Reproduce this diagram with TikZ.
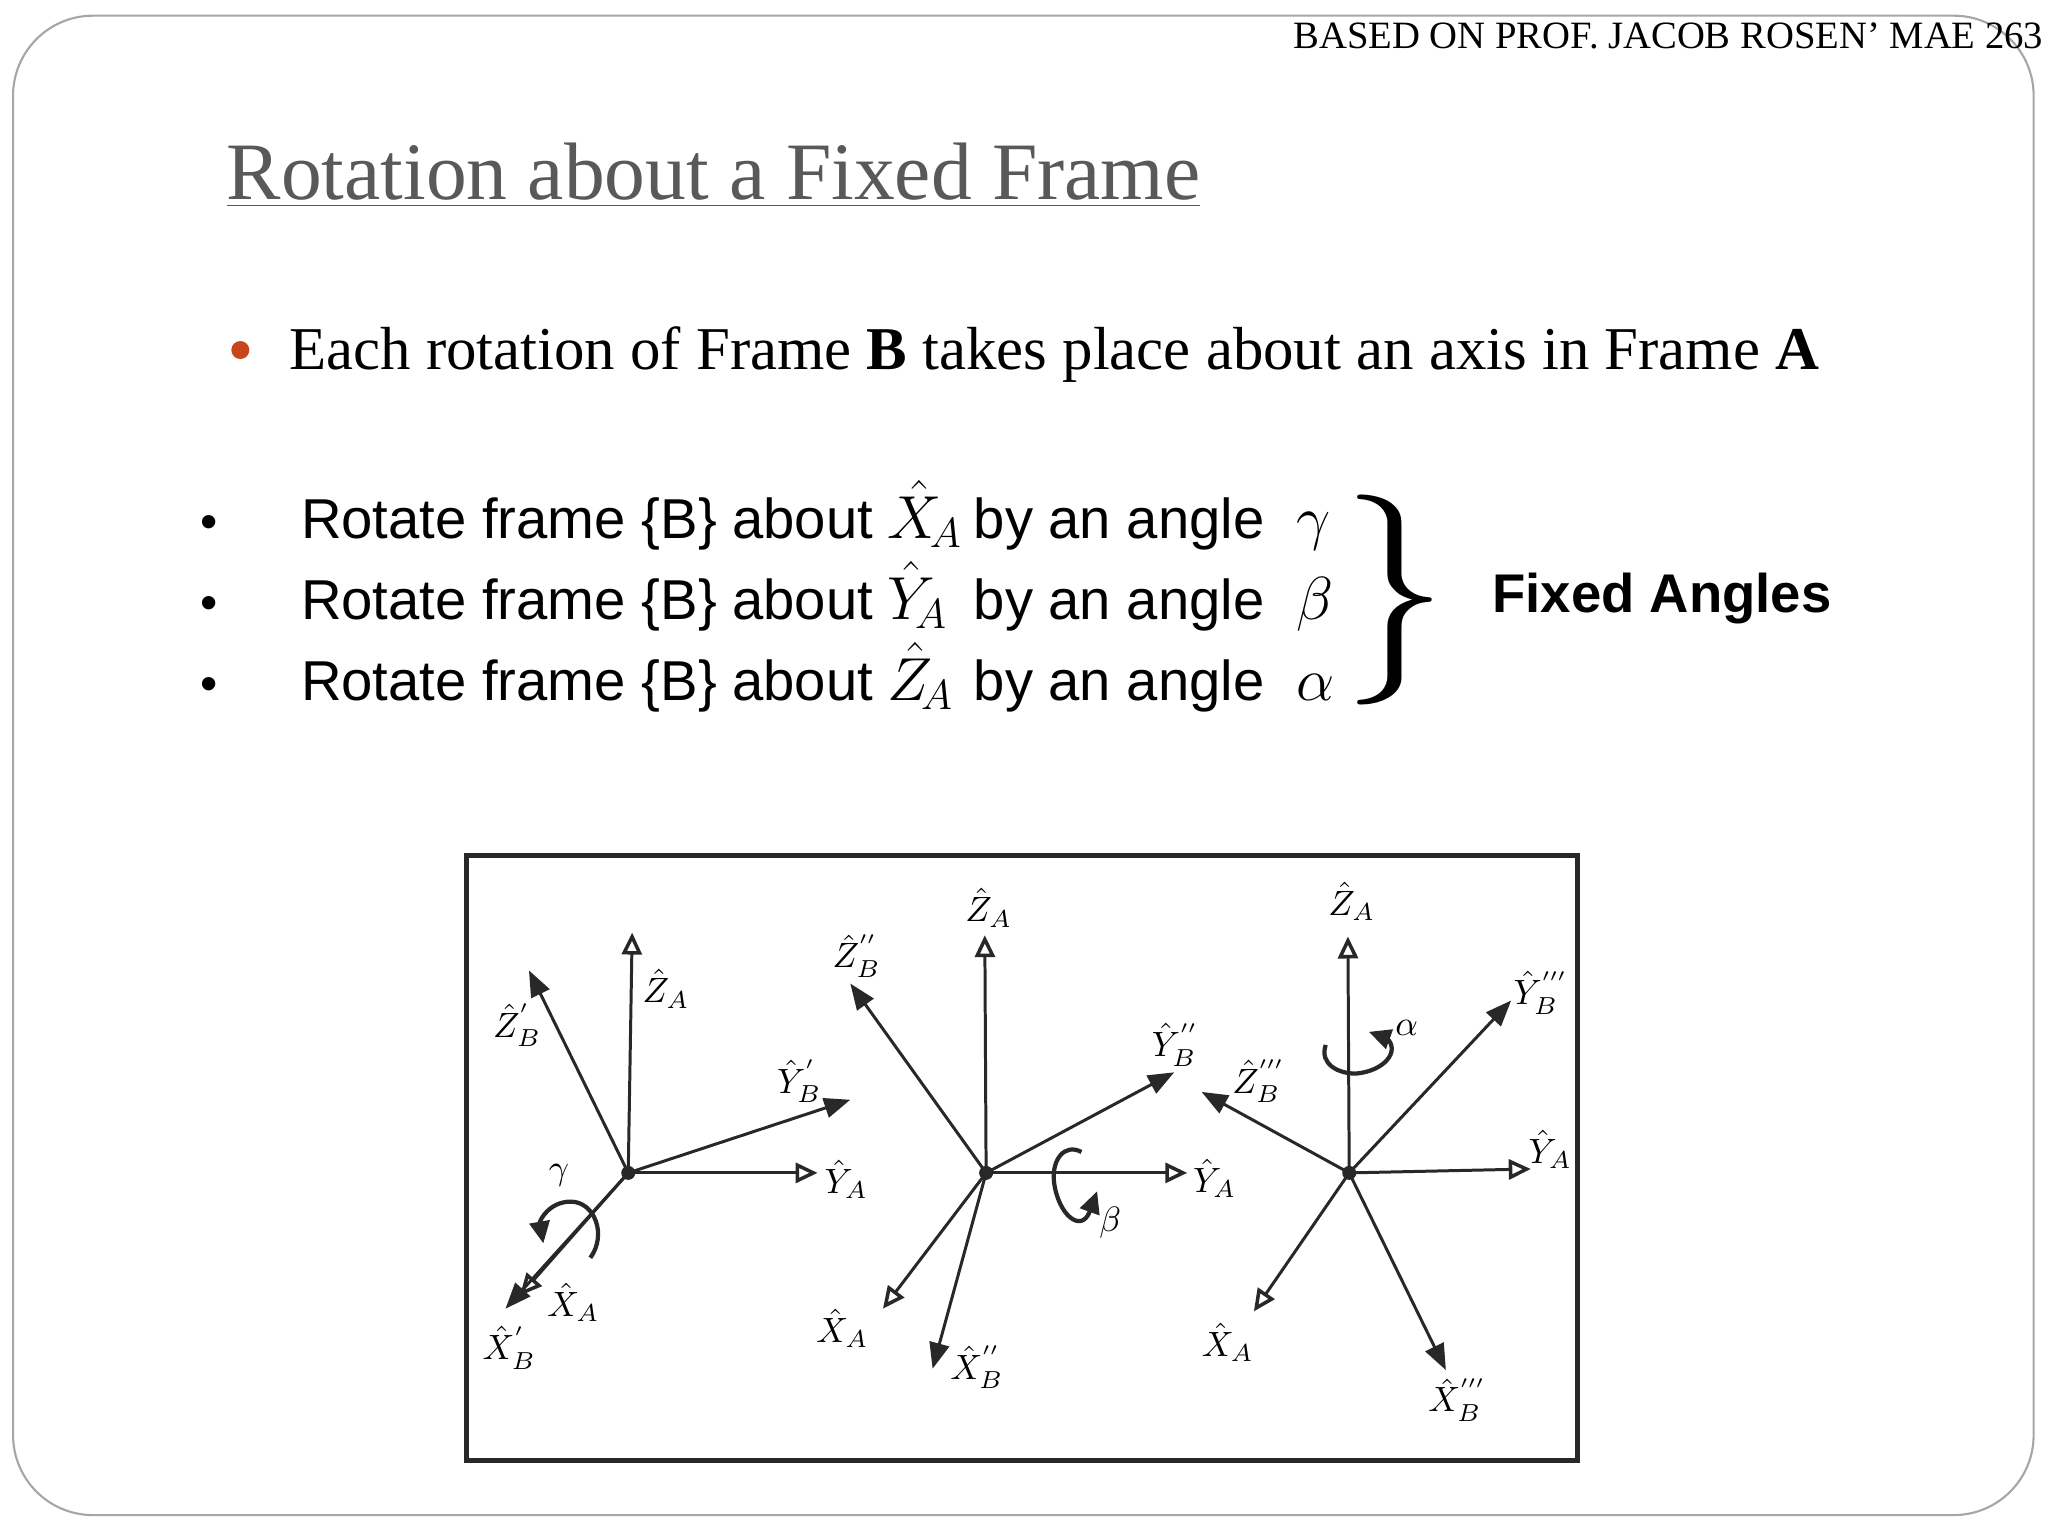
\documentclass[tikz,border=0pt]{standalone}
\usepackage{fontspec}
\setmainfont{Liberation Serif}
\setsansfont{Liberation Sans}
\usetikzlibrary{arrows.meta}
\definecolor{titlegray}{RGB}{89,89,89}
\definecolor{bulletred}{RGB}{200,70,30}
\definecolor{axgray}{RGB}{40,40,40}
\tikzset{
  ax/.style={line width=0.85pt, draw=axgray},
  axf/.style={ax, -{Triangle[length=0.26cm,width=0.2cm]}},
  axo/.style={ax, -{Triangle[open,length=0.22cm,width=0.2cm,line width=1pt]}},
  lab/.style={inner sep=0pt, font=\fontsize{10}{11}\selectfont},
  rot/.style={line width=1.2pt, draw=axgray, -{Triangle[length=0.22cm,width=0.2cm]}},
  listtxt/.style={inner sep=0pt, anchor=base west, font=\sffamily\fontsize{16}{19}\selectfont},
}
\begin{document}
\begin{tikzpicture}[x=0.01306cm,y=-0.01306cm]
\useasboundingbox (0,0) rectangle (1568,1176);
\draw[gray!70, line width=0.6pt, rounded corners=0.8cm] (10,12) rectangle (1557,1160);
\node[inner sep=0pt, anchor=base east, font=\fontsize{11}{12}\selectfont] (hdr) at (1565,37) {BASED ON PROF. JACOB ROSEN’ MAE 263};
\node[inner sep=0pt, anchor=base west, text=titlegray, font=\fontsize{23.2}{26}\selectfont] (title) at (173,153) {\underline{Rotation about a Fixed Frame}};
\fill[bulletred] (184,268) circle (0.09cm);
\node[inner sep=0pt, anchor=base west, font=\fontsize{17.3}{20}\selectfont] (main) at (221,283) {Each rotation of Frame \textbf{B} takes place about an axis in Frame \textbf{A}};
% list
\foreach \y/\ax/\ang [count=\i] in {412/X/\gamma,474/Y/\beta,536/Z/\alpha}{
  \node[inner sep=0pt, anchor=base, font=\sffamily\fontsize{14}{18}\selectfont] (b\i) at (160,\y) {•};
  \node[listtxt] (r\i) at (230,\y) {Rotate frame \{B\} about};
  \node[inner sep=0pt, anchor=base west, font=\fontsize{18}{20}\selectfont] (m\i) at (679,\y) {$\hat{\ax}_{\!A}$};
  \node[listtxt] (s\i) at (745,\y) {by an angle};
  \node[inner sep=0pt, anchor=base west, font=\fontsize{18}{20}\selectfont] (g\i) at (992,\y) {$\ang$};
}
\node[inner sep=0pt] (brace) at (1068,459) {\resizebox*{!}{2.1cm}{$\}$}};
\node[inner sep=0pt, anchor=west, font=\sffamily\bfseries\fontsize{15.5}{18}\selectfont] (fa) at (1142,458) {Fixed Angles};
% box
\draw[line width=1.4pt, draw=axgray] (357,655) rectangle (1208,1118);
% frame 1
\coordinate (o1) at (481,898);
\fill[axgray] (o1) circle (0.07cm);
\coordinate (z1) at (484,714); \coordinate (zb1) at (405,743); \coordinate (yb1) at (651,842);
\coordinate (y1) at (626,898); \coordinate (x1) at (398,992); \coordinate (xb1) at (387,1002);
\draw[axo] (o1) -- (z1); \draw[axf] (o1) -- (zb1); \draw[axf] (o1) -- (yb1);
\draw[axo] (o1) -- (y1); \draw[axo] (o1) -- (x1); \draw[axf] (o1) -- (xb1);
\node[lab] (lz1) at (510,757) {$\hat Z_A$};
\node[lab] (lzb1) at (396,785) {$\hat Z_B^{'}$};
\node[lab] (lyb1) at (612,828) {$\hat Y_B^{'}$};
\node[lab] (ly1) at (648,903) {$\hat Y_A$};
\node[lab] (lx1) at (439,997) {$\hat X_A$};
\node[lab] (lxb1) at (390,1032) {$\hat X_B^{'}$};
\node[lab] (g1) at (428,900) {$\gamma$};
\draw[rot] (452,963) .. controls (465,945) and (455,920) .. (437,920) .. controls (420,920) and (413,935) .. (416,952);
% frame 2
\coordinate (o2) at (755,898);
\fill[axgray] (o2) circle (0.07cm);
\coordinate (z2) at (754,716); \coordinate (zb2) at (651,753); \coordinate (yb2) at (899,821);
\coordinate (y2) at (909,898); \coordinate (x2) at (676,1002); \coordinate (xb2) at (714,1048);
\draw[axo] (o2) -- (z2); \draw[axf] (o2) -- (zb2); \draw[axo] (o2) -- (x2);
\draw[axf] (o2) -- (xb2); \draw[axf] (o2) -- (yb2); \draw[axo] (o2) -- (y2);
\node[lab] (lz2) at (757,695) {$\hat Z_A$};
\node[lab] (lzb2) at (656,732) {$\hat Z_B^{''}$};
\node[lab] (lx2) at (645,1017) {$\hat X_A$};
\node[lab] (lxb2) at (748,1047) {$\hat X_B^{''}$};
\node[lab] (lyb2) at (900,800) {$\hat Y_B^{''}$};
\node[lab] (ly2) at (930,902) {$\hat Y_A$};
\node[lab] (b2) at (850,936) {$\beta$};
\draw[rot] (828,882) .. controls (815,875) and (805,888) .. (807,905) .. controls (810,930) and (828,945) .. (840,912);
% frame 3
\coordinate (o3) at (1033,898);
\fill[axgray] (o3) circle (0.07cm);
\coordinate (z3) at (1032,717); \coordinate (yb3) at (1157,766); \coordinate (zb3) at (920,836);
\coordinate (y3) at (1172,895); \coordinate (x3) at (960,1004); \coordinate (xb3) at (1107,1049);
\draw[axo] (o3) -- (z3); \draw[axf] (o3) -- (yb3); \draw[axf] (o3) -- (zb3);
\draw[axo] (o3) -- (y3); \draw[axo] (o3) -- (x3); \draw[axf] (o3) -- (xb3);
\node[lab] (lz3) at (1035,690) {$\hat Z_A$};
\node[lab] (lyb3) at (1180,760) {$\hat Y_B^{'''}$};
\node[lab] (lzb3) at (964,828) {$\hat Z_B^{'''}$};
\node[lab] (ly3) at (1187,880) {$\hat Y_A$};
\node[lab] (lx3) at (940,1028) {$\hat X_A$};
\node[lab] (lxb3) at (1116,1072) {$\hat X_B^{'''}$};
\node[lab] (a3) at (1077,787) {$\alpha$};
\draw[rot] (1015,800) .. controls (1010,815) and (1025,822) .. (1038,822) .. controls (1060,820) and (1072,805) .. (1062,795) -- (1048,790);
\end{tikzpicture}
\end{document}
